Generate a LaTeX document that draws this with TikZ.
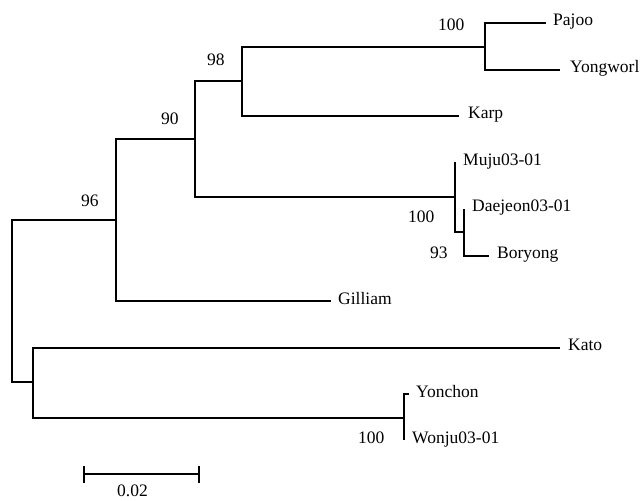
\documentclass[tikz,border=0pt]{standalone}
\usepackage{fontspec}
\setmainfont{Liberation Serif}
\begin{document}
\begin{tikzpicture}[x=1pt,y=-1pt,
  branch/.style={line width=1.2pt, line join=miter},
  taxon/.style={inner sep=0pt, anchor=base west, font=\fontsize{17.5}{20}\selectfont},
  support/.style={inner sep=0pt, anchor=base west, font=\fontsize{17.5}{20}\selectfont}]
\useasboundingbox (0,0) rectangle (644,500);

% internal nodes (x of the vertical bar, middle of its span)
\coordinate (root) at (12,301);
\coordinate (n96)  at (116,220);
\coordinate (n90)  at (195,139);
\coordinate (n98)  at (242,81);
\coordinate (nPY)  at (485,47);
\coordinate (nMu)  at (455,197);
\coordinate (nDB)  at (464,232);
\coordinate (nKY)  at (33,382);
\coordinate (nYW)  at (404,418);

% tips
\coordinate (tPajoo)   at (546,23);
\coordinate (tYong)    at (560,70);
\coordinate (tKarp)    at (459,116);
\coordinate (tMuju)    at (455,162);
\coordinate (tDae)     at (464,209);
\coordinate (tBor)     at (489,256);
\coordinate (tGil)     at (331,301);
\coordinate (tKato)    at (560,348);
\coordinate (tYon)     at (409,394);
\coordinate (tWon)     at (404,440);

% branches
\draw[branch] (root) |- (n96);
\draw[branch] (root) |- (nKY);
\draw[branch] (n96) |- (n90);
\draw[branch] (n96) |- (tGil);
\draw[branch] (n90) |- (n98);
\draw[branch] (n90) |- (nMu);
\draw[branch] (n98) |- (nPY);
\draw[branch] (n98) |- (tKarp);
\draw[branch] (nPY) |- (tPajoo);
\draw[branch] (nPY) |- (tYong);
\draw[branch] (nMu) |- (tMuju);
\draw[branch] (nMu) |- (nDB);
\draw[branch] (nDB) |- (tDae);
\draw[branch] (nDB) |- (tBor);
\draw[branch] (nKY) |- (tKato);
\draw[branch] (nKY) |- (nYW);
\draw[branch] (nYW) |- (tYon);
\draw[branch] (nYW) |- (tWon);

% taxon names
\node[taxon] (Pajoo)   at (553,26)  {Pajoo};
\node[taxon] (Yongworl) at (570,73) {Yongworl};
\node[taxon] (Karp)    at (468,118) {Karp};
\node[taxon] (Muju)    at (463,165) {Muju03-01};
\node[taxon] (Daejeon) at (472,211) {Daejeon03-01};
\node[taxon] (Boryong) at (497,258) {Boryong};
\node[taxon] (Gilliam) at (338,304) {Gilliam};
\node[taxon] (Kato)    at (568,350) {Kato};
\node[taxon] (Yonchon) at (416,397) {Yonchon};
\node[taxon] (Wonju)   at (412,443) {Wonju03-01};

% bootstrap values
\node[support] (b100a) at (438,31)  {100};
\node[support] (b98)   at (207,66)  {98};
\node[support] (b90)   at (161,124) {90};
\node[support] (b96)   at (81,206)  {96};
\node[support] (b100b) at (408,222) {100};
\node[support] (b93)   at (430,258) {93};
\node[support] (b100c) at (358,443) {100};

% scale bar
\coordinate (sL) at (84,474);
\coordinate (sR) at (199,474);
\draw[branch] (sL) -- (sR);
\draw[branch] ([yshift=-8.5pt]sL) -- ([yshift=8pt]sL);
\draw[branch] ([yshift=-8.5pt]sR) -- ([yshift=8pt]sR);
\node[support] (scale) at (117,496) {0.02};
\end{tikzpicture}
\end{document}
